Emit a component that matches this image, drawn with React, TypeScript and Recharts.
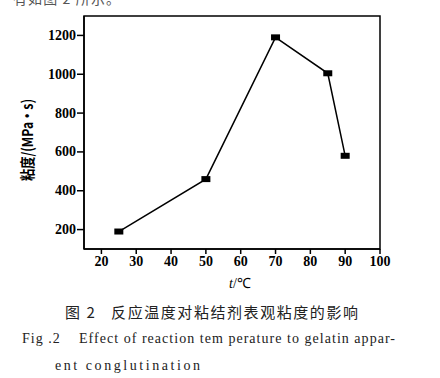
import React from "react";
import { LineChart, Line, XAxis, YAxis, ReferenceArea } from "recharts";

const temperatures = [25, 50, 70, 85, 90];
const viscosity = [190, 460, 1190, 1005, 580];
const xTicks = [20, 30, 40, 50, 60, 70, 80, 90, 100];
const yTicks = [200, 400, 600, 800, 1000, 1200];

const data = temperatures.map((t, i) => ({ t, v: viscosity[i] }));

const serif = "'Liberation Serif', 'Times New Roman', Times, serif";
const cjk = "'Noto Sans CJK SC', sans-serif";

const SquareDot = (props: any) => {
  const { cx, cy, index } = props;
  if (cx == null || cy == null) return null;
  return <rect key={index} x={cx - 4.5} y={cy - 3} width={9} height={6} fill="#000" />;
};

const XTick = (props: any) => {
  const { x, y, payload } = props;
  return (
    <text x={x} y={y + 10} textAnchor="middle" fill="#000" style={{ fontFamily: serif, fontSize: 14, fontWeight: 700 }}>
      {payload.value}
    </text>
  );
};

const YTick = (props: any) => {
  const { x, y, payload } = props;
  return (
    <text x={x} y={y + 4.5} textAnchor="end" fill="#000" style={{ fontFamily: serif, fontSize: 14, fontWeight: 700 }}>
      {payload.value}
    </text>
  );
};

export default function App() {
  return (
    <div
      style={{
        position: "fixed",
        left: 0,
        top: 0,
        width: 440,
        height: 378,
        background: "#fff",
        fontFamily: serif,
      }}
    >
      <LineChart
        width={440}
        height={378}
        data={data}
        margin={{ top: 16, right: 60, bottom: 99, left: 24 }}
      >
        <XAxis
          dataKey="t"
          type="number"
          domain={[15, 100]}
          ticks={xTicks}
          allowDataOverflow
          height={30}
          stroke="#000"
          strokeWidth={1.5}
          tickSize={5}
          tickMargin={2}
          tick={XTick}
        />
        <YAxis
          type="number"
          domain={[100, 1300]}
          ticks={yTicks}
          allowDataOverflow
          width={60}
          stroke="#000"
          strokeWidth={1.5}
          tickSize={7}
          tickMargin={1}
          tick={YTick}
        />
        <ReferenceArea
          x1={15}
          x2={100}
          y1={100}
          y2={1300}
          fill="none"
          stroke="#000"
          strokeWidth={1.5}
          ifOverflow="visible"
        />
        <Line
          dataKey="v"
          type="linear"
          stroke="#000"
          strokeWidth={1.5}
          dot={SquareDot}
          activeDot={false}
          isAnimationActive={false}
        />
      </LineChart>
      <svg
        width={440}
        height={378}
        style={{ position: "absolute", left: 0, top: 0, pointerEvents: "none" }}
      >
        <text x={13} y={4} fill="#555" textLength={107} lengthAdjust="spacing" style={{ fontFamily: cjk, fontSize: 14 }}>
          有如图 2 所示。
        </text>
        <text
          x={0}
          y={0}
          transform="translate(33,140) rotate(-90)"
          textAnchor="middle"
          fill="#000"
          textLength={82}
          lengthAdjust="spacingAndGlyphs"
          style={{ fontFamily: cjk, fontSize: 15, fontWeight: 700 }}
        >
          粘度/(MPa·s)
        </text>
        <text x={229} y={288} fill="#000" style={{ fontFamily: serif, fontSize: 14 }}>
          <tspan fontStyle="italic">t</tspan>/℃
        </text>
        <text
          x={65}
          y={318}
          fill="#222"
          textLength={293}
          lengthAdjust="spacing"
          style={{ whiteSpace: "pre", fontFamily: cjk, fontSize: 15 }}
        >
          图 2   反应温度对粘结剂表观粘度的影响
        </text>
        <text
          x={22}
          y={343}
          fill="#222"
          textLength={373}
          lengthAdjust="spacing"
          style={{ whiteSpace: "pre", fontFamily: serif, fontSize: 14 }}
        >
          {"Fig .2    Effect of reaction tem perature to gelatin appar-"}
        </text>
        <text
          x={55}
          y={370}
          fill="#222"
          textLength={145}
          lengthAdjust="spacing"
          style={{ whiteSpace: "pre", fontFamily: serif, fontSize: 14 }}
        >
          ent conglutination
        </text>
      </svg>
    </div>
  );
}
